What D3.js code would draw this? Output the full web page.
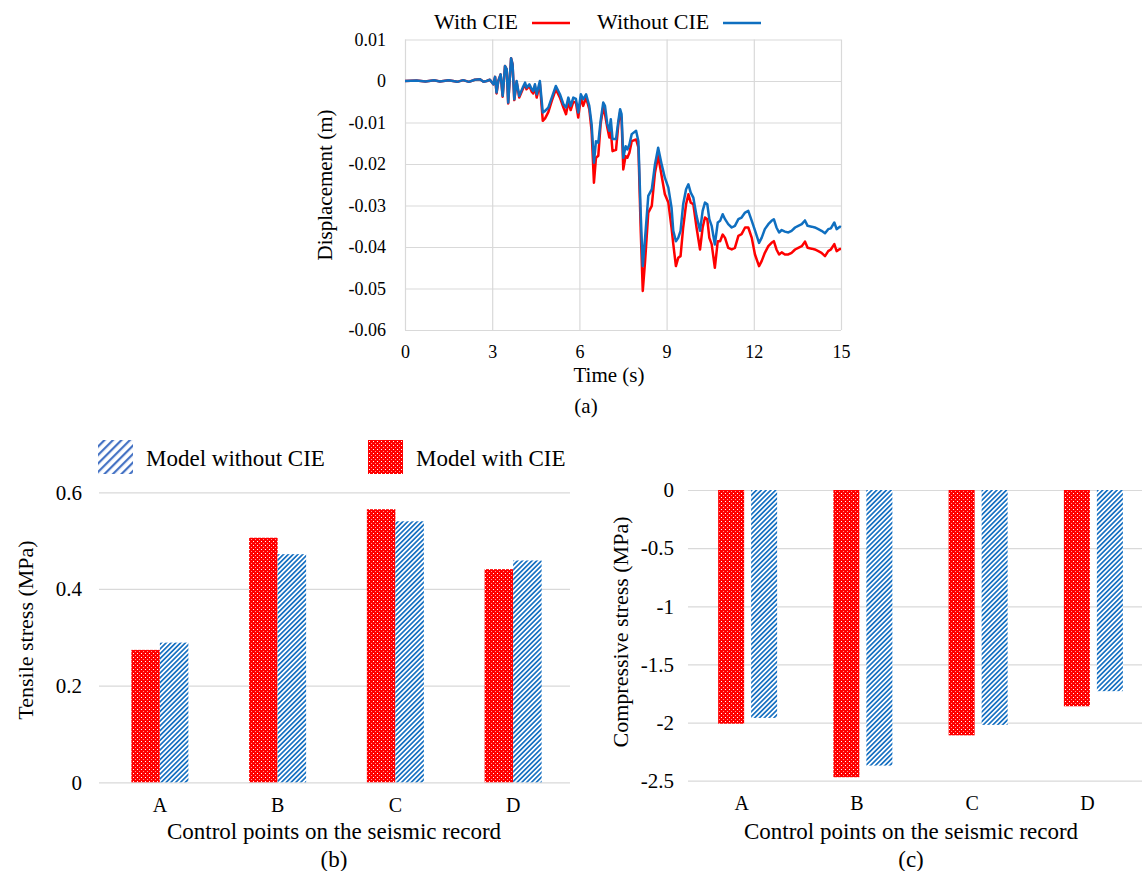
<!DOCTYPE html>
<html lang="en">
<head>
<meta charset="utf-8">
<title>Displacement and stress with / without CIE</title>
<script src="https://d3js.org/d3.v7.min.js"></script>
<style>
  body { margin: 0; background: #fff; }
  svg { font-family: "Liberation Serif", "Times New Roman", serif; }
  svg text { font-family: "Liberation Serif", "Times New Roman", serif; }
  .grid line { stroke: #d9d9d9; stroke-width: 1.2; }
  .grid .domain { display: none; }
</style>
</head>
<body>
<svg id="chart" width="1142" height="871"></svg>
<script>
// ---- data ----
const time = [0.00, 0.40, 0.70, 1.00, 1.20, 1.50, 1.80, 2.00, 2.20, 2.40, 2.58, 2.70, 2.81, 2.92,
  3.04, 3.10, 3.15, 3.21, 3.29, 3.36, 3.44, 3.50, 3.55, 3.65, 3.70, 3.76, 3.84, 3.93, 4.05, 4.13,
  4.18, 4.28, 4.36, 4.41, 4.47, 4.53, 4.64, 4.74, 4.82, 4.93, 5.05, 5.19, 5.33, 5.45, 5.54, 5.62,
  5.70, 5.79, 5.88, 5.96, 6.05, 6.13, 6.23, 6.34, 6.42, 6.50, 6.57, 6.65, 6.73, 6.82, 6.88, 6.96,
  7.03, 7.08, 7.14, 7.26, 7.34, 7.40, 7.45, 7.51, 7.59, 7.65, 7.72, 7.80, 7.95, 8.03, 8.11, 8.18,
  8.26, 8.37, 8.49, 8.60, 8.71, 8.83, 8.94, 9.06, 9.17, 9.23, 9.32, 9.40, 9.48, 9.57, 9.67, 9.75,
  9.83, 9.92, 10.03, 10.15, 10.24, 10.32, 10.40, 10.47, 10.55, 10.66, 10.76, 10.84, 10.93, 11.01,
  11.12, 11.24, 11.35, 11.47, 11.58, 11.70, 11.81, 11.93, 12.04, 12.18, 12.27, 12.38, 12.50, 12.61,
  12.69, 12.78, 12.87, 12.96, 13.07, 13.19, 13.30, 13.42, 13.53, 13.65, 13.76, 13.85, 13.99, 14.10,
  14.22, 14.33, 14.45, 14.56, 14.65, 14.77, 14.85, 14.96, 15.00];

const withoutCIE = [0, 0.0001, -0.0001, 0.0002, -0.0001, 0.0002, -0.0002, 0.0002, -0.0002, 0.0003, 0.0004, -0.0002, 0, 0.0003,
  -0.0008, 0.0010, -0.0028, 0, 0.0016, -0.0036, 0.0036, 0.0028, -0.0052, 0.0055, 0.0040, -0.0044, 0, -0.0036, -0.0016, -0.0004,
  -0.0016, -0.0008, -0.0020, -0.0024, -0.0008, -0.0032, 0, -0.0076, -0.0072, -0.0064, -0.0040, -0.0012, -0.0032, -0.0056, -0.0064, -0.0040,
  -0.0060, -0.0040, -0.0043, -0.0076, -0.0032, -0.0044, -0.0032, -0.0060, -0.0104, -0.0197, -0.0145, -0.0149, -0.0096, -0.0052, -0.0060, -0.0104,
  -0.0120, -0.0092, -0.0140, -0.0140, -0.0096, -0.0068, -0.0080, -0.0185, -0.0157, -0.0165, -0.0153, -0.0128, -0.0120, -0.0145, -0.0321, -0.0446,
  -0.0378, -0.0277, -0.0261, -0.0201, -0.0161, -0.0201, -0.0233, -0.0257, -0.0305, -0.0361, -0.0386, -0.0378, -0.0361, -0.0297, -0.0261, -0.0249,
  -0.0269, -0.0281, -0.0325, -0.0361, -0.0313, -0.0293, -0.0297, -0.0333, -0.0349, -0.0394, -0.0341, -0.0337, -0.0321, -0.0333,
  -0.0345, -0.0353, -0.0349, -0.0333, -0.0329, -0.0317, -0.0313, -0.0337, -0.0360, -0.0390, -0.0378, -0.0357, -0.0345, -0.0337,
  -0.0333, -0.0353, -0.0365, -0.0359, -0.0363, -0.0365, -0.0361, -0.0353, -0.0349, -0.0345, -0.0336, -0.0349, -0.0351, -0.0353,
  -0.0357, -0.0361, -0.0367, -0.0357, -0.0355, -0.0341, -0.0357, -0.0351, -0.0352];

const withCIE = [0, 0.0001, -0.0001, 0.0002, -0.0001, 0.0002, -0.0002, 0.0002, -0.0002, 0.0003, 0.0004, -0.0002, 0, 0.0003,
  -0.0008, 0.0010, -0.0030, 0, 0.0016, -0.0038, 0.0036, 0.0028, -0.0054, 0.0055, 0.0040, -0.0046, -0.0002, -0.0040, -0.0020, -0.0008,
  -0.0020, -0.0012, -0.0026, -0.0030, -0.0012, -0.0040, -0.0006, -0.0096, -0.0090, -0.0075, -0.0048, -0.0020, -0.0040, -0.0064, -0.0080, -0.0050,
  -0.0070, -0.0050, -0.0052, -0.0088, -0.0040, -0.0060, -0.0040, -0.0068, -0.0120, -0.0245, -0.0185, -0.0180, -0.0104, -0.0064, -0.0080, -0.0112,
  -0.0136, -0.0120, -0.0169, -0.0166, -0.0104, -0.0076, -0.0090, -0.0213, -0.0181, -0.0185, -0.0173, -0.0145, -0.0141, -0.0160, -0.0361, -0.0506,
  -0.0434, -0.0317, -0.0301, -0.0221, -0.0181, -0.0229, -0.0273, -0.0293, -0.0354, -0.0393, -0.0446, -0.0426, -0.0422, -0.0353, -0.0297, -0.0273,
  -0.0293, -0.0297, -0.0353, -0.0406, -0.0353, -0.0329, -0.0333, -0.0378, -0.0393, -0.0450, -0.0386, -0.0386, -0.0370, -0.0378,
  -0.0402, -0.0406, -0.0402, -0.0373, -0.0369, -0.0353, -0.0353, -0.0378, -0.0418, -0.0446, -0.0434, -0.0414, -0.0398, -0.0390,
  -0.0386, -0.0406, -0.0418, -0.0413, -0.0418, -0.0418, -0.0414, -0.0406, -0.0402, -0.0398, -0.0387, -0.0402, -0.0404, -0.0406,
  -0.0410, -0.0414, -0.0422, -0.0410, -0.0406, -0.0393, -0.0410, -0.0405, -0.0405];

const timeTicks = [0, 3, 6, 9, 12, 15];
const dispTicks = [0.01, 0, -0.01, -0.02, -0.03, -0.04, -0.05, -0.06];

const points = ['A', 'B', 'C', 'D'];
const tensileWith = [0.274, 0.506, 0.565, 0.441];
const tensileWithout = [0.289, 0.472, 0.540, 0.459];
const tensileTicks = [0, 0.2, 0.4, 0.6];
const compWith = [-2.01, -2.47, -2.11, -1.86];
const compWithout = [-1.96, -2.37, -2.02, -1.73];
const compTicks = [0, -0.5, -1, -1.5, -2, -2.5];

const RED = '#ff0000';
const BLUE = '#0f6fc0';
const SERIF = '"Liberation Serif", "Times New Roman", serif';

const svg = d3.select('#chart');

// ---- patterns ----
const defs = svg.append('defs');
const dots = defs.append('pattern').attr('id', 'dots')
  .attr('patternUnits', 'userSpaceOnUse').attr('width', 4).attr('height', 4);
dots.append('rect').attr('width', 4).attr('height', 4).attr('fill', RED);
dots.append('rect').attr('x', 1).attr('y', 1).attr('width', 1).attr('height', 1).attr('fill', '#fff');
dots.append('rect').attr('x', 3).attr('y', 3).attr('width', 1).attr('height', 1).attr('fill', '#ff9a9a');

function stripes(id, size, w, color) {
  const p = defs.append('pattern').attr('id', id)
    .attr('patternUnits', 'userSpaceOnUse').attr('width', size).attr('height', size)
    .attr('patternTransform', 'rotate(45)');
  p.append('rect').attr('width', size).attr('height', size).attr('fill', '#fff');
  p.append('rect').attr('width', w).attr('height', size).attr('fill', color);
}
stripes('stripes', 3.4, 1.7, '#1a72c2');
stripes('stripesBig', 6, 2.2, '#4472c4');

// axis text style: serif, black
function styleText(g, size) {
  g.attr('font-family', SERIF);
  g.selectAll('text').attr('font-size', size).attr('fill', '#000');
}

// ---- (a) displacement time history ----
const xA = d3.scaleLinear([0, 15], [405, 841]);
const yA = d3.scaleLinear([-0.06, 0.01], [330, 39.5]);
const fmt = d => d === 0 ? '0' : String(d);

svg.append('g').attr('class', 'grid').attr('transform', 'translate(405,0)')
  .call(d3.axisLeft(yA).tickValues(dispTicks).tickSize(-436).tickPadding(19)
    .tickFormat(d => d === 0 ? '0' : d.toFixed(2)))
  .call(g => styleText(g, 18));

svg.append('g').attr('class', 'grid').attr('transform', 'translate(0,330)')
  .call(d3.axisBottom(xA).tickValues(timeTicks).tickSize(-290.5).tickPadding(15).tickFormat(fmt))
  .call(g => styleText(g, 18));

const series = [
  { values: withCIE, color: RED },
  { values: withoutCIE, color: BLUE }
];
const line = d3.line().x((d, i) => xA(time[i])).y(d => yA(d)).curve(d3.curveLinear);
svg.append('g').selectAll('path').data(series).join('path')
  .attr('d', d => line(d.values))
  .attr('fill', 'none').attr('stroke', d => d.color)
  .attr('stroke-width', 2.5).attr('stroke-linejoin', 'round');

svg.append('text').attr('transform', 'translate(332,185) rotate(-90)')
  .attr('text-anchor', 'middle').attr('font-size', 21).text('Displacement (m)');
svg.append('text').attr('x', 609).attr('y', 382).attr('text-anchor', 'middle')
  .attr('font-size', 21).text('Time (s)');
svg.append('text').attr('x', 586).attr('y', 413).attr('text-anchor', 'middle')
  .attr('font-size', 21).text('(a)');

// legend (a)
const legA = [
  { label: 'With CIE', color: RED, x: 434, lx: 532 },
  { label: 'Without CIE', color: BLUE, x: 597, lx: 723 }
];
const la = svg.append('g').selectAll('g').data(legA).join('g');
la.append('text').attr('x', d => d.x).attr('y', 29).attr('font-size', 22).text(d => d.label);
la.append('line').attr('x1', d => d.lx).attr('x2', d => d.lx + 38)
  .attr('y1', 23).attr('y2', 23).attr('stroke', d => d.color).attr('stroke-width', 2.4);

// ---- bar chart helper ----
function barChart(opt) {
  const x = d3.scaleBand(points, opt.xRange);
  const y = d3.scaleLinear(opt.yDomain, opt.yRange);
  const g = svg.append('g');

  g.append('g').attr('class', 'grid').attr('transform', `translate(${opt.axisX},0)`)
    .call(d3.axisLeft(y).tickValues(opt.ticks).tickSize(-opt.gridW).tickPadding(opt.pad).tickFormat(fmt))
    .call(s => styleText(s, 21));

  g.append('g').attr('transform', `translate(0,${y(opt.yDomain[0])})`)
    .call(d3.axisBottom(x).tickSize(0).tickPadding(opt.catPad))
    .call(s => s.select('.domain').remove())
    .call(s => { styleText(s, 20); s.selectAll('text').attr('dx', opt.catDx); });

  const groups = [
    { values: opt.withV, fill: 'url(#dots)', off: opt.redOff },
    { values: opt.withoutV, fill: 'url(#stripes)', off: opt.blueOff }
  ];
  groups.forEach(s => {
    g.append('g').selectAll('rect').data(s.values).join('rect')
      .attr('x', (d, i) => x(points[i]) + x.bandwidth() / 2 + s.off)
      .attr('width', opt.barW)
      .attr('y', d => Math.min(y(d), y(0)))
      .attr('height', d => Math.abs(y(d) - y(0)))
      .attr('fill', s.fill);
  });

  g.append('text').attr('transform', `translate(${opt.titleX},${opt.titleY}) rotate(-90)`)
    .attr('text-anchor', 'middle').attr('font-size', 22).text(opt.yTitle);
  g.append('text').attr('x', opt.midX).attr('y', 839).attr('text-anchor', 'middle')
    .attr('font-size', 23).text('Control points on the seismic record');
  g.append('text').attr('x', opt.midX).attr('y', 867).attr('text-anchor', 'middle')
    .attr('font-size', 23).text(opt.caption);
}

// (b) tensile stress
barChart({
  xRange: [101, 572], yDomain: [0, 0.6], yRange: [782.3, 492.3],
  ticks: tensileTicks, axisX: 99, gridW: 471, pad: 17, catPad: 16, catDx: 0,
  withV: tensileWith, withoutV: tensileWithout, redOff: -28.5, blueOff: 0, barW: 28.5,
  titleX: 33, titleY: 630, yTitle: 'Tensile stress (MPa)', midX: 334, caption: '(b)'
});

// (c) compressive stress
barChart({
  xRange: [690, 1151], yDomain: [-2.5, 0], yRange: [780.7, 490],
  ticks: compTicks, axisX: 688, gridW: 454, pad: 14, catPad: 15, catDx: -6,
  withV: compWith, withoutV: compWithout, redOff: -29.5, blueOff: 3.5, barW: 26,
  titleX: 628, titleY: 632, yTitle: 'Compressive stress (MPa)', midX: 911, caption: '(c)'
});

// legend (b)
const legB = [
  { label: 'Model without CIE', fill: 'url(#stripesBig)', x: 98 },
  { label: 'Model with CIE', fill: 'url(#dots)', x: 368 }
];
const lb = svg.append('g').selectAll('g').data(legB).join('g');
lb.append('rect').attr('x', d => d.x).attr('y', 440).attr('width', 35).attr('height', 34).attr('fill', d => d.fill);
lb.append('text').attr('x', d => d.x + 48).attr('y', 466).attr('font-size', 23).text(d => d.label);
</script>
</body>
</html>
